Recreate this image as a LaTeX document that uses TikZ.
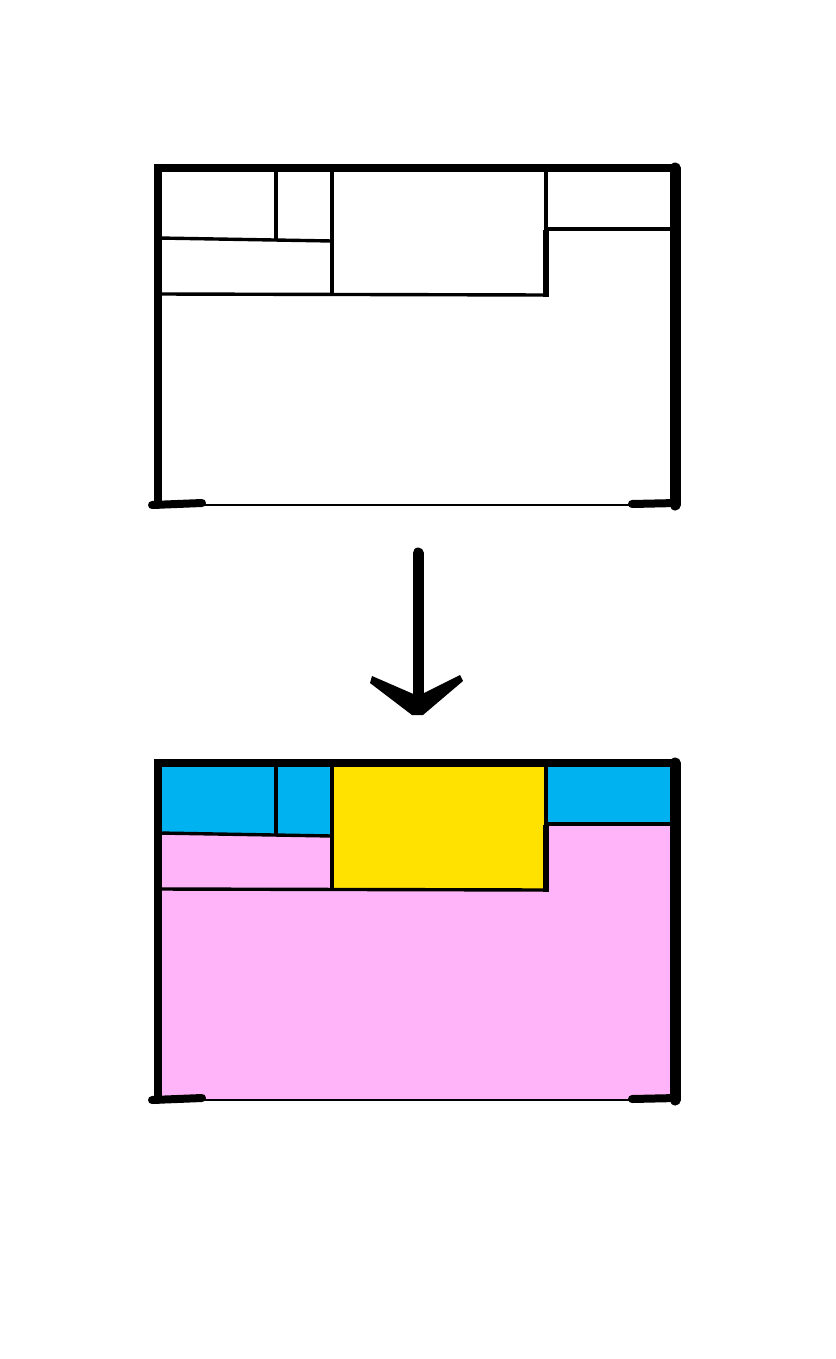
\documentclass[tikz,border=0pt]{standalone}
\usetikzlibrary{positioning}

\definecolor{boxblue}{RGB}{0,178,240}
\definecolor{boxyellow}{RGB}{255,226,0}
\definecolor{boxpink}{RGB}{255,180,250}

\tikzset{
  frame/.style={line width=4pt,line cap=round},
  frameright/.style={line width=5.5pt,line cap=round},
  split/.style={line width=1.7pt},
  base/.style={line width=1pt},
  blob/.style={line width=4pt,line cap=round}
}

\begin{document}
\begin{tikzpicture}[x=0.5pt,y=-0.5pt]
\useasboundingbox (0,0) rectangle (835,1359);

% colours of the lower panel
\begin{scope}[shift={(0,595)}]
\fill[boxpink] (158,168) rectangle (675,505);
\fill[boxblue] (158,168) rectangle (332,240);
\fill[boxblue] (546,168) rectangle (675,228);
\fill[boxyellow] (332,168) rectangle (546,295);
\end{scope}

% both panels
\foreach \dy in {0,595} {
\begin{scope}[shift={(0,\dy)}]
\coordinate (tl) at (158,168); \coordinate (tr) at (675,168);
\coordinate (bl) at (158,505); \coordinate (br) at (675,505);
\draw[split] (276,168) -- (276,240);
\draw[split] (332,168) -- (332,295);
\draw[split] (546,168) -- (546,230);
\draw[line width=2.6pt] (546,230) -- (546,297);
\draw[split] (158,238) -- (332,241);
\draw[split] (158,294) -- (546,295);
\draw[split] (546,229) -- (675,229);
\draw[base] (bl) -- (br);
\draw[frame] (bl) -- (tl) -- (tr);
\draw[frameright] (tr) -- (br);
\draw[blob] (152,505) -- (202,503);
\draw[blob] (632,504) -- (677,503);
\end{scope}
}

% arrow between the panels
\coordinate (arrow top) at (418,553);
\coordinate (arrow tip) at (418,715);
\draw[line width=5.5pt,line cap=round] (arrow top) -- ([yshift=6pt]arrow tip);
\fill (372,676) -- (418,696) -- (460,675) -- (463,681) -- (423,715)
  -- (arrow tip) -- (412,715) -- (370,683) -- cycle;
\end{tikzpicture}
\end{document}
